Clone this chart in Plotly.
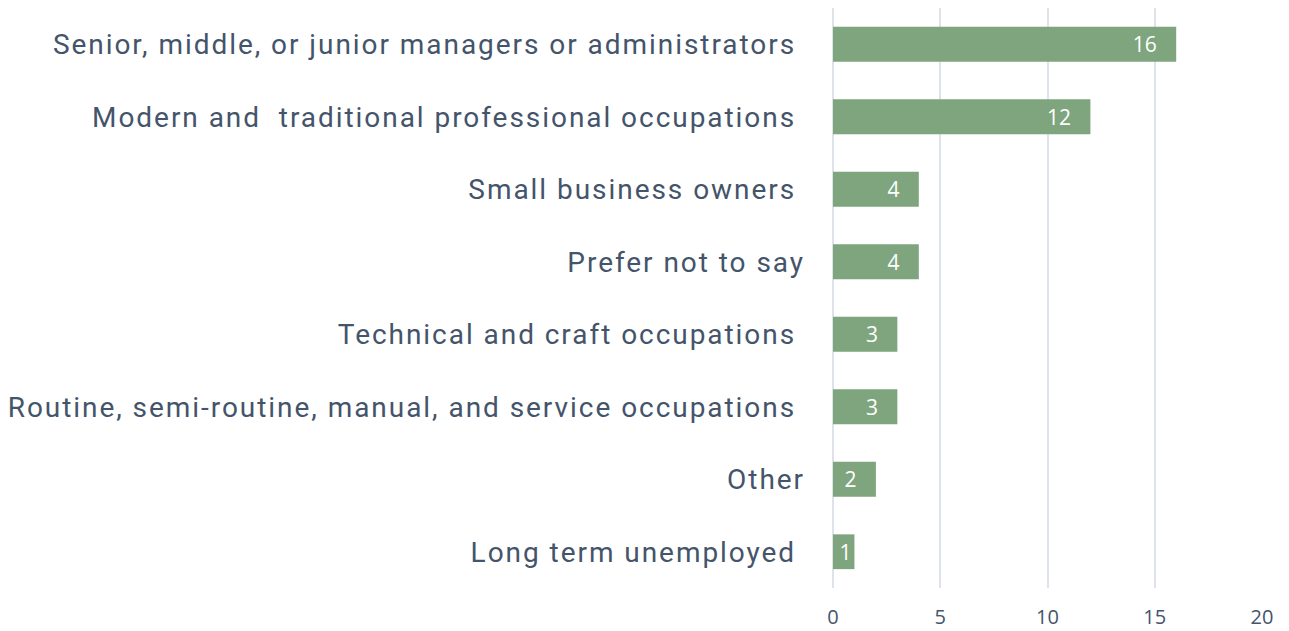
import plotly.graph_objects as go

NB = "\u00a0"
categories = [
    "Senior, middle, or junior managers or administrators" + NB,
    "Modern and" + NB + " traditional professional occupations" + NB,
    "Small business owners" + NB,
    "Prefer not to say",
    "Technical and craft occupations" + NB,
    "Routine, semi-routine, manual, and service occupations" + NB,
    "Other",
    "Long term unemployed" + NB,
]
values = [16, 12, 4, 4, 3, 3, 2, 1]
x_ticks = [0, 5, 10, 15, 20]

labels = [str(v) + (NB * 3 if v >= 2 else "") for v in values]

fig = go.Figure(
    go.Bar(
        x=values,
        y=categories,
        orientation="h",
        marker=dict(color="#7EA57E", line=dict(width=0)),
        text=labels,
        textposition="inside",
        insidetextanchor="end",
        constraintext="none",
        textfont=dict(family="Open Sans", size=21, color="white"),
        cliponaxis=False,
    )
)

fig.update_layout(
    width=1289,
    height=631,
    margin=dict(l=833, r=27, t=8, b=43),
    plot_bgcolor="white",
    paper_bgcolor="white",
    bargap=0.52,
    showlegend=False,
    xaxis=dict(
        range=[0, 20],
        tickvals=x_ticks,
        showgrid=True,
        gridcolor="#DEE2E9",
        gridwidth=1.5,
        zeroline=True,
        zerolinecolor="#DEE2E9",
        zerolinewidth=1.5,
        tickfont=dict(family="Open Sans", size=20, color="#44546A"),
        ticks="",
        ticklabelstandoff=15,
        automargin=False,
        fixedrange=True,
    ),
    yaxis=dict(
        autorange="reversed",
        showgrid=False,
        ticks="",
        tickfont=dict(family="Roboto", size=28, color="#44546A"),
        ticklabelstandoff=27,
        automargin=False,
        fixedrange=True,
    ),
)

post = """
document.body.style.margin = '0';
document.body.style.padding = '0';
var gd = document.getElementById('{plot_id}');
function spaceLabels() {
  gd.querySelectorAll('.ytick text').forEach(function (t) {
    t.style.letterSpacing = '1.95px';
  });
}
spaceLabels();
if (gd.on) { gd.on('plotly_afterplot', spaceLabels); }
setTimeout(spaceLabels, 0);
"""

fig.write_html("out.html", post_script=post, config={"displayModeBar": False})
